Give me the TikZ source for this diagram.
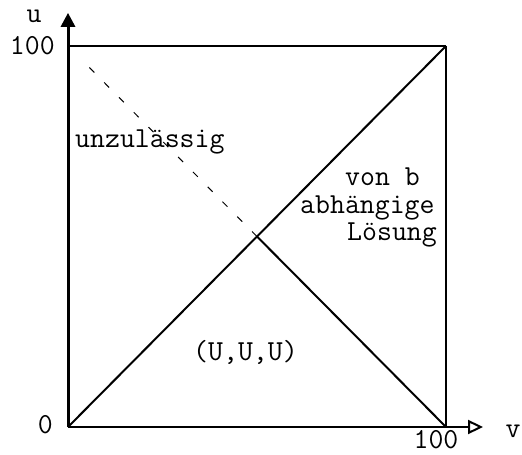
\documentclass[tikz,border=0pt]{standalone}
\usepackage{fontspec}
\usetikzlibrary{arrows.meta}

\begin{document}
\begin{tikzpicture}[
        x=3.78pt, y=3.81pt,
        every node/.style={inner sep=0pt, font=\fontsize{29}{35}\selectfont\ttfamily},
        axis/.style={draw, line width=2.2pt, -{Triangle[open, length=15pt, width=14pt, line width=2pt]}},
        border/.style={draw, line width=2pt},
        guide/.style={draw, line width=1pt, dash pattern=on 7pt off 14pt},
    ]
    \useasboundingbox (-68pt,-28pt) rectangle (454pt,427pt);
    % corners of the square
    \coordinate (O) at (0,0);
    \coordinate (V) at (100,0);
    \coordinate (U) at (0,100);
    \coordinate (T) at (100,100);
    \coordinate (M) at (50,50);
    \coordinate (D) at (5,95);
    \coordinate (uend) at (0,108.7);
    \coordinate (vend) at (109.8,0);

    \draw[axis, line width=3pt, -{Triangle[length=14pt, width=14pt]}] (O) -- (uend);
    \draw[axis] (O) -- (vend);
    \draw[border, line width=1.4pt] (U) -- (T);
    \draw[border, line width=2.4pt] (T) -- (V);
    \draw[border] (O) -- (T);
    \draw[border] (V) -- (M);
    \draw[guide] (M) -- (D);

    % axis labels
    \node[anchor=base] (ulabel) at (-34pt,404pt) {u};
    \node[anchor=base east] (utop) at (-13pt,372pt) {100};
    \node[anchor=base east] (zero) at (-15pt,-6pt) {0};
    \node[anchor=base] (vright) at (368pt,-21pt) {100};
    \node[anchor=base] (vlabel) at (445pt,-10pt) {v};

    % regions
    \node[anchor=base west] (forbidden) at (7pt,279pt) {unzulässig};
    \node[anchor=base west] (dep1) at (277pt,241pt) {von b};
    \node[anchor=base west] (dep2) at (232pt,213pt) {abhängige};
    \node[anchor=base west] (dep3) at (279pt,186pt) {Lösung};
    \node[anchor=base west] (uuu) at (125pt,66pt) {(U,U,U)};
\end{tikzpicture}
\end{document}
